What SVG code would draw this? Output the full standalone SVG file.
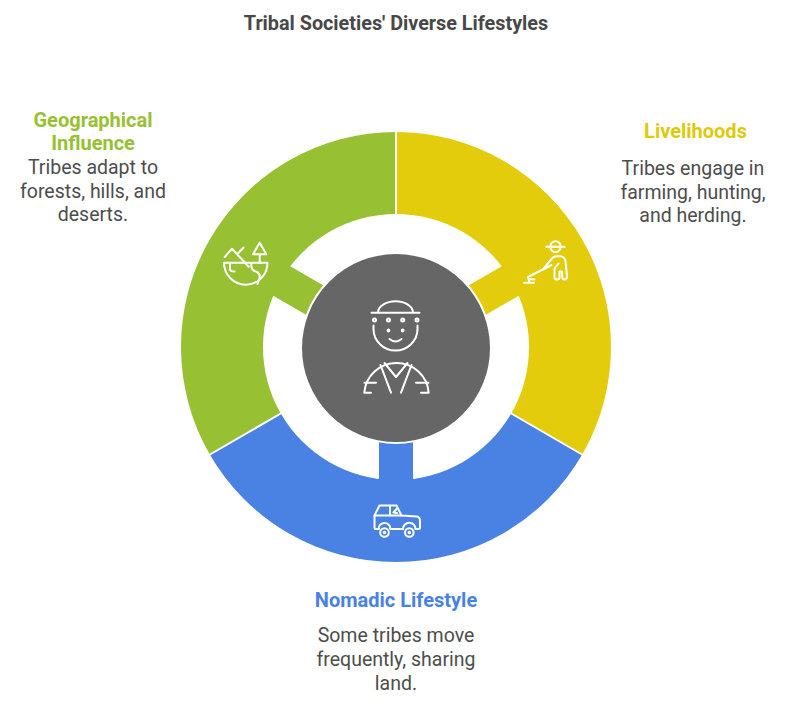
<svg xmlns="http://www.w3.org/2000/svg" width="792" height="708" viewBox="0 0 792 708">
<style>
.title{font-family:Roboto,"Liberation Sans",sans-serif;font-size:19.8px;font-weight:bold;fill:#484848;text-anchor:middle}
.head{font-family:Roboto,"Liberation Sans",sans-serif;font-size:20px;font-weight:bold;text-anchor:middle}
.body{font-family:Roboto,"Liberation Sans",sans-serif;font-size:19.5px;fill:#4d4d4d;text-anchor:middle}
.sep{stroke:#fff;stroke-width:2}
.icon{fill:none;stroke:#fff;stroke-width:2;stroke-linecap:round;stroke-linejoin:round}
</style>
<rect width="792" height="708" fill="#fff"/>
<text class="title" x="396" y="30">Tribal Societies' Diverse Lifestyles</text>

<g id="geographical">
<path fill="#97C133" d="M209.8,454.5 A215,215 0 0 1 396,132 L396,214 A133,133 0 0 0 280.8,413.5 Z"/>
<rect x="88" y="-17" width="50" height="34" fill="#97C133" transform="translate(396,347) rotate(210)"/>
<g class="icon">
<path d="M224.7,257 L232,248.7 L248.7,266.7 M237.5,254 L243.5,247.5"/>
<path d="M253,254.3 L259.7,242.7 L266.3,254.3 Z M259.7,254.3 V262.7"/>
<path d="M224,262.7 H267.5 A21.75,22 0 0 1 224,262.7 Z"/>
<path d="M230,263 V269 Q230,271.5 234.5,271.5"/>
<path d="M251.5,263 Q250,270 257,272 Q261,274 259,280 L257.5,284"/>
</g>
<text class="head" x="93" y="127" fill="#97C133">Geographical</text>
<text class="head" x="93" y="150" fill="#97C133">Influence</text>
<text class="body" x="93" y="174">Tribes adapt to</text>
<text class="body" x="93" y="198">forests, hills, and</text>
<text class="body" x="93" y="221">deserts.</text>
</g>

<g id="livelihoods">
<path fill="#E2CC0B" d="M396,132 A215,215 0 0 1 582.2,454.5 L511.2,413.5 A133,133 0 0 0 396,214 Z"/>
<rect x="88" y="-17" width="50" height="34" fill="#E2CC0B" transform="translate(396,347) rotate(-30)"/>
<g class="icon">
<path d="M546.3,246.7 H564.7 M550.3,246.7 A5.2,5.5 0 0 1 560.7,246.7 M550.3,246.7 A5.2,5.5 0 0 0 560.7,246.7"/>
<path d="M543,269.5 L551.5,259 Q553.5,256.3 557,256.3 L560,256.3 Q564.5,256.5 565.5,261 L567,276.5 Q567,279.5 564.5,279.5 Q562.3,279.5 562.3,277 L562,271.5 L559.5,271.5 L559.5,277 Q559.5,279.5 557,279.5 Q554.5,279.5 554.5,277 L554.5,268.5 L558.5,263.5 M551.5,265 L543,269.5"/>
<path d="M529.7,276 L543,269.5 M524,282.7 H534 M528,277 L529.7,282.7 M529.7,279 L534.5,279.5"/>
</g>
<text class="head" x="695.5" y="138" fill="#E0C90A">Livelihoods</text>
<text class="body" x="693" y="175">Tribes engage in</text>
<text class="body" x="693" y="199">farming, hunting,</text>
<text class="body" x="693" y="222">and herding.</text>
</g>

<g id="nomadic">
<path fill="#4A82E3" d="M582.2,454.5 A215,215 0 0 1 209.8,454.5 L280.8,413.5 A133,133 0 0 0 511.2,413.5 Z"/>
<rect x="88" y="-17" width="50" height="34" fill="#4A82E3" transform="translate(396,347) rotate(90)"/>
<g class="icon">
<path d="M379,529 H375.5 Q374.5,529 374.5,527.5 L374.5,515.5 L379.5,505.5 H396.5 L401.5,515.5 L416.5,516.5 Q420,517 420,521 L420,527.5 Q420,529 418.5,529 H415.5 M403,529 H390.5"/>
<path d="M374.5,515.5 H401.5 M390,506 V515.5 M396.5,509 L393.5,512.5 L397,513"/>
<path d="M378.5,529 A5.8,5.8 0 0 1 390.5,529 M403,529 A5.8,5.8 0 0 1 415.5,529"/>
<circle cx="384.5" cy="532.5" r="4.3"/>
<circle cx="409.3" cy="532.5" r="4.3"/>
<circle cx="384.5" cy="532.5" r="0.8"/>
<circle cx="409.3" cy="532.5" r="0.8"/>
</g>
<text class="head" x="396" y="607" fill="#4A82E3">Nomadic Lifestyle</text>
<text class="body" x="396" y="642">Some tribes move</text>
<text class="body" x="396" y="666">frequently, sharing</text>
<text class="body" x="396" y="690">land.</text>
</g>

<g id="connectors">
<line class="sep" x1="396" y1="131" x2="396" y2="215"/>
<line class="sep" x1="582.9" y1="455" x2="510.4" y2="413"/>
<line class="sep" x1="209.1" y1="455" x2="281.6" y2="413"/>
</g>

<g id="center">
<circle cx="396" cy="348" r="95" fill="#666666" stroke="#fff" stroke-width="2"/>
<g class="icon">
<path d="M371.5,312.7 H419.5 M378,312.7 A17.5,11.5 0 0 1 413,312.7"/>
<circle cx="374.5" cy="320" r="1.5"/>
<circle cx="388.5" cy="320" r="1.5"/>
<circle cx="402.7" cy="320" r="1.5"/>
<circle cx="417" cy="320" r="1.5"/>
<path d="M373.5,325.5 V329 A22,21.5 0 0 0 417.5,329 V325.5"/>
<circle cx="388.5" cy="330.5" r="0.9"/>
<circle cx="402.7" cy="330.5" r="0.9"/>
<path d="M389.5,339 Q395.5,344 401.5,339"/>
<path d="M371,392.7 H364.3 A32.3,32.3 0 0 1 428.7,392.7 H421"/>
<path d="M364.5,382.7 H376 M416,382.7 H428.5"/>
<path d="M380.5,365 L391,392.7 M411.5,365 L401,392.7"/>
<path d="M384.5,363 L396,377 L407.5,363"/>
</g>
</g>
</svg>
